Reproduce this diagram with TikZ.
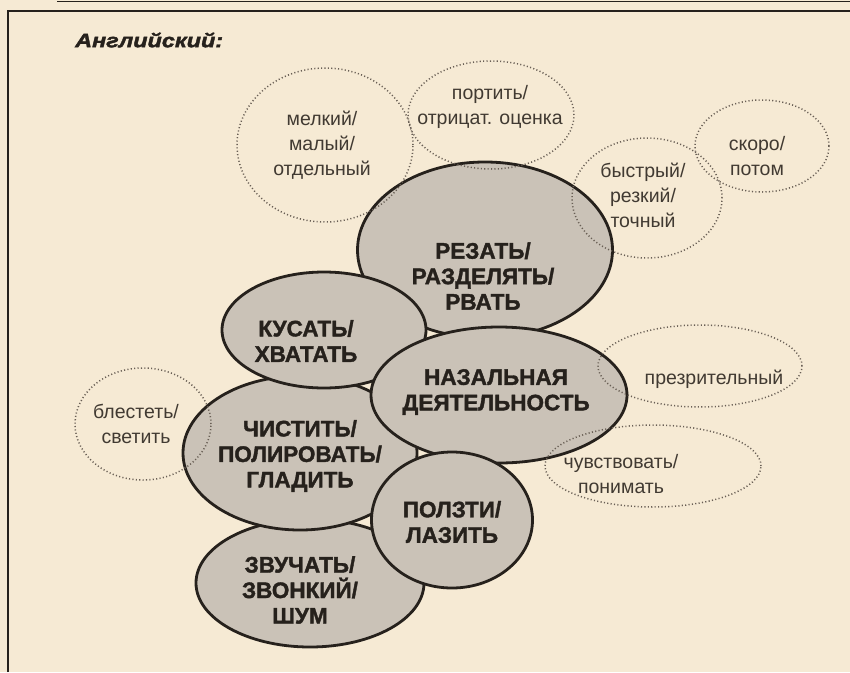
\documentclass[tikz,border=0pt]{standalone}
\usepackage{fontspec}
\setmainfont{Liberation Sans}
\newfontfamily\titlefont[FakeStretch=1.2, FakeBold=2]{Liberation Sans}
\newfontfamily\heavyfont[FakeBold=1.6]{Liberation Sans}
\usetikzlibrary{shapes.geometric}
\definecolor{paper}{RGB}{246,234,212}
\definecolor{bubble}{RGB}{202,194,183}
\definecolor{ink}{RGB}{38,33,28}
\definecolor{softink}{RGB}{65,58,50}
\definecolor{dotline}{RGB}{105,95,85}
\tikzset{
  bigell/.style={ellipse, draw=ink, line width=2.8pt, fill=bubble, inner sep=0pt},
  dotell/.style={ellipse, draw=dotline, line width=1.5pt, dash pattern=on 1.1pt off 2.3pt, inner sep=0pt},
  bigtxt/.style={font=\heavyfont\fontsize{22.5}{25.5}\selectfont\bfseries, text=ink, align=center, inner sep=0pt},
  smalltxt/.style={font=\fontsize{19.5}{25}\selectfont, text=softink, align=center, inner sep=0pt},
  frameline/.style={draw=ink, line width=2.2pt}
}
\begin{document}
\begin{tikzpicture}[x=1pt, y=-1pt]
\useasboundingbox (0,0) rectangle (850,672);
\fill[paper] (0,0) rectangle (850,672);
% frame
\coordinate (ttl) at (57,1.5);
\coordinate (ttr) at (850,1.5);
\draw[draw=ink, line width=1.5pt] (ttl) -- (ttr);
\coordinate (fbl) at (8,672);
\coordinate (ftl) at (8,11);
\coordinate (ftr) at (850,11);
\draw[frameline] (fbl) -- (ftl) -- (ftr);
% title
\node[anchor=west, inner sep=0pt, text=ink, font=\titlefont\fontsize{19.5}{21}\selectfont\bfseries\itshape] (title) at (75,40) {Английский:};
% filled ellipses (order matters)
\node[bigell, minimum width=228pt, minimum height=128pt] (zvuk) at (310,583) {};
\node[bigell, minimum width=255pt, minimum height=176pt] (rez) at (485,250) {};
\node[bigell, minimum width=234pt, minimum height=154pt] (chist) at (300,453) {};
\node[bigell, minimum width=204pt, minimum height=116pt] (kus) at (324,330) {};
\node[bigell, minimum width=256pt, minimum height=136pt] (naz) at (499,395) {};
\node[bigell, minimum width=161pt, minimum height=136pt] (polz) at (452,520) {};
% dotted ellipses
\node[dotell, minimum width=176pt, minimum height=154pt] (melk) at (325,145) {};
\node[dotell, minimum width=166pt, minimum height=108pt] (port) at (491,115) {};
\node[dotell, minimum width=150pt, minimum height=120pt] (bystr) at (647,198) {};
\node[dotell, minimum width=134pt, minimum height=92pt] (skoro) at (762,146) {};
\node[dotell, minimum width=136pt, minimum height=112pt] (blest) at (143,424) {};
\node[dotell, minimum width=204pt, minimum height=82pt] (prez) at (700,366) {};
\node[dotell, minimum width=216pt, minimum height=82pt] (chuv) at (653,466) {};
% texts
\node[bigtxt] (trez) at (483,276) {РЕЗАТЬ/\\РАЗДЕЛЯТЬ/\\РВАТЬ};
\node[bigtxt] (tkus) at (306,341) {КУСАТЬ/\\ХВАТАТЬ};
\node[bigtxt] (tnaz) at (496,392) {НАЗАЛЬНАЯ\\ДЕЯТЕЛЬНОСТЬ};
\node[bigtxt] (tchist) at (300,456) {ЧИСТИТЬ/\\ПОЛИРОВАТЬ/\\ГЛАДИТЬ};
\node[bigtxt] (tpolz) at (452,522) {ПОЛЗТИ/\\ЛАЗИТЬ};
\node[bigtxt] (tzvuk) at (300,590) {ЗВУЧАТЬ/\\ЗВОНКИЙ/\\ШУМ};
\node[smalltxt] (tmelk) at (322,145) {мелкий/\\малый/\\отдельный};
\node[smalltxt] (tport) at (490,107) {портить/\\отрицат. оценка};
\node[smalltxt] (tbystr) at (643,195) {быстрый/\\резкий/\\точный};
\node[smalltxt] (tskoro) at (757,156) {скоро/\\потом};
\node[smalltxt] (tblest) at (136,424) {блестеть/\\светить};
\node[smalltxt] (tprez) at (714,379) {презрительный};
\node[smalltxt] (tchuv) at (621,474) {чувствовать/\\понимать};
\end{tikzpicture}
\end{document}
